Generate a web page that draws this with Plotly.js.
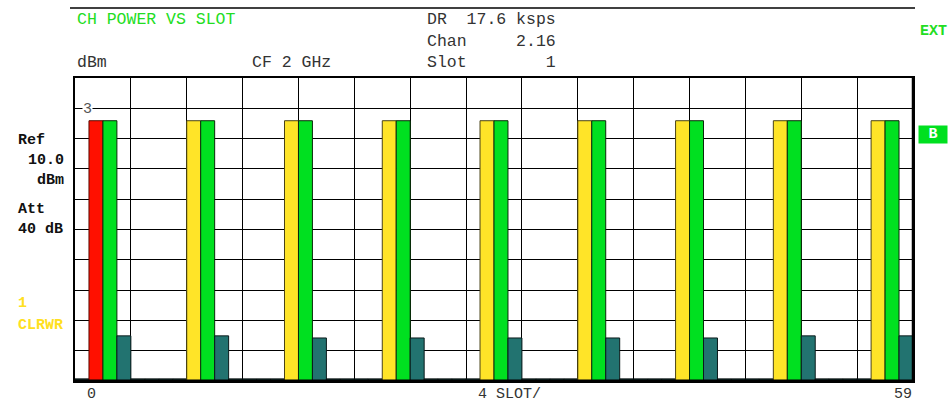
<!DOCTYPE html>
<html>
<head>
<meta charset="utf-8">
<script src="https://cdn.plot.ly/plotly-3.0.1.min.js"></script>
<style>html,body{margin:0;padding:0;background:#fff;}#chart{width:950px;height:403px;}</style>
</head>
<body>
<div id="chart"></div>
<script>
// ---- data ----
const slots = [0,1,2,3,4,5,6,7,8,9,10,11,12,13,14,15,16,17,18,19,20,21,22,23,24,25,26,27,28,29,
               30,31,32,33,34,35,36,37,38,39,40,41,42,43,44,45,46,47,48,49,50,51,52,53,54,55,56,57,58,59];
const powerDbm = [
  -89.3, -4.1, -4.1, -75.1, -89.3, -89.3, -89.3, -89.3,
  -4.1, -4.1, -75.1, -89.3, -89.3, -89.3, -89.3,
  -4.1, -4.1, -75.8, -89.3, -89.3, -89.3, -89.3,
  -4.1, -4.1, -75.8, -89.3, -89.3, -89.3, -89.3,
  -4.1, -4.1, -75.8, -89.3, -89.3, -89.3, -89.3,
  -4.1, -4.1, -75.8, -89.3, -89.3, -89.3, -89.3,
  -4.1, -4.1, -75.8, -89.3, -89.3, -89.3, -89.3,
  -4.1, -4.1, -75.1, -89.3, -89.3, -89.3, -89.3,
  -4.1, -4.1, -75.1
];
const currentSlot = 1;
const refLevel = 10;
const bottomLevel = -90;
const xTickLabels = ["0", "4 SLOT/", "59"];

// ---- styling ----
const RED = '#ff1000', YEL = '#ffe428', GRN = '#00e020', TEAL = '#227370', DARK = '#14403c';
const colors = [], lineColors = [];
for (let i = 0; i < powerDbm.length; i++) {
  const v = powerDbm[i], prev = i > 0 ? powerDbm[i-1] : bottomLevel;
  if (i === currentSlot) { colors.push(RED); lineColors.push('#5a0a00'); }
  else if (v > -50 && prev <= -50) { colors.push(YEL); lineColors.push('#4a4318'); }
  else if (v > -50) { colors.push(GRN); lineColors.push('#0a2a0a'); }
  else if (v > -85) { colors.push(TEAL); lineColors.push('#0a1a1a'); }
  else { colors.push(DARK); lineColors.push('#0a1414'); }
}

const W = 950, H = 403, L = 75, R = 913, T = 78, B = 381;
const px = x => (x - L) / (R - L);
const py = y => (B - y) / (B - T);
const MONO = '"Liberation Mono", "DejaVu Sans Mono", monospace';
const GREY = '#333333';
const SP = n => '&nbsp;'.repeat(n);

function ann(text, x, y, color, size, bold, extra) {
  return Object.assign({
    text: bold ? '<b>' + text + '</b>' : text,
    xref: 'paper', yref: 'paper', x: px(x), y: py(y),
    xanchor: 'left', yanchor: 'middle', showarrow: false,
    font: {family: MONO, size: size, color: color}
  }, extra || {});
}

const annotations = [
  ann('CH POWER VS SLOT', 75, 20, '#22dd22', 16.5),
  ann('DR' + SP(2) + '17.6 ksps', 425, 20, GREY, 16.5),
  ann('Chan' + SP(5) + '2.16', 425, 42, GREY, 16.5),
  ann('Slot' + SP(8) + currentSlot, 425, 63, GREY, 16.5),
  ann('dBm', 75, 63, GREY, 16.5),
  ann('CF 2 GHz', 250, 63, GREY, 16.5),
  ann('Ref', 16, 140, '#111', 15, true),
  ann('10.0', 26, 160, '#111', 15, true),
  ann('dBm', 35, 180, '#111', 15, true),
  ann('Att', 16, 209, '#111', 15, true),
  ann('40 dB', 16, 229, '#111', 15, true),
  ann('1', 16, 303, '#ffe020', 15, true),
  ann('CLRWR', 16, 325, '#ffe020', 15, true),
  ann('EXT', 918, 32, '#22dd22', 15, true),
  ann('B', 918, 134, '#ffffff', 15, true, {bgcolor: GRN, width: 26, height: 15, align: 'center', borderpad: 1}),
  ann('3', 82, 109, '#555', 15, false, {bgcolor: '#ffffff', borderpad: 0}),
  ann(xTickLabels[0], 85, 395, GREY, 15),
  ann(xTickLabels[1], 476, 395, GREY, 15),
  ann(xTickLabels[2], 892, 395, GREY, 15)
];

const shapes = [
  {type: 'line', xref: 'paper', yref: 'paper', x0: px(70), x1: px(915), y0: py(8), y1: py(8), line: {color: '#000', width: 1.5}},
  {type: 'line', xref: 'paper', yref: 'paper', x0: 0, x1: 1, y0: 0, y1: 0, line: {color: '#000', width: 3}},
  {type: 'line', xref: 'paper', yref: 'paper', x0: 1, x1: 1, y0: 0, y1: 1, line: {color: '#000', width: 2.5}}
];

const trace = {
  type: 'bar',
  x: slots,
  y: powerDbm.map(v => v - bottomLevel),
  base: bottomLevel,
  width: 1,
  marker: {color: colors, line: {color: lineColors, width: 1}},
  hoverinfo: 'skip'
};

const layout = {
  width: W, height: H,
  margin: {l: L, r: W - R, t: T, b: H - B, pad: 0},
  paper_bgcolor: '#ffffff', plot_bgcolor: '#ffffff',
  showlegend: false,
  bargap: 0,
  xaxis: {
    range: [-0.5, 59.5], tick0: -0.5, dtick: 4,
    showgrid: true, gridcolor: '#000', gridwidth: 1,
    showticklabels: false, ticks: '', zeroline: false,
    showline: true, mirror: true, linecolor: '#000', linewidth: 2
  },
  yaxis: {
    range: [bottomLevel, refLevel], tick0: bottomLevel, dtick: 10,
    showgrid: true, gridcolor: '#000', gridwidth: 1,
    showticklabels: false, ticks: '', zeroline: false,
    showline: true, mirror: true, linecolor: '#000', linewidth: 2
  },
  annotations: annotations,
  shapes: shapes
};

Plotly.newPlot('chart', [trace], layout, {staticPlot: true, displayModeBar: false});
</script>
</body>
</html>
